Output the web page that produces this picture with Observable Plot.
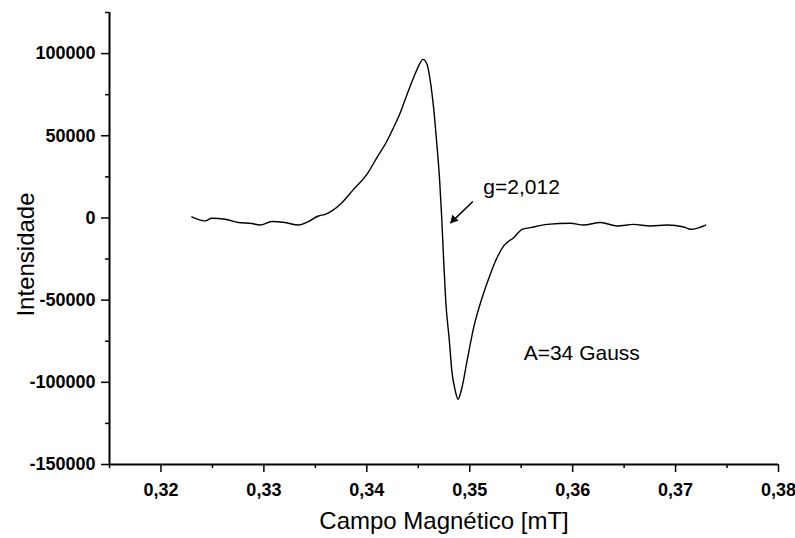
<!DOCTYPE html>
<html>
<head>
<meta charset="utf-8">
<script src="https://cdn.jsdelivr.net/npm/d3@7"></script>
<script src="https://cdn.jsdelivr.net/npm/@observablehq/plot@0.6"></script>
<style>
  html, body { margin: 0; padding: 0; background: #fff; }
  #chart { width: 795px; height: 538px; }
  #chart g[aria-label="y-axis tick label"],
  #chart g[aria-label="x-axis tick label"] { font-size: 18px; font-weight: bold; }
</style>
</head>
<body>
<div id="chart"></div>
<script>
// Magnetic field (mT) and EPR intensity
const field = [0.32299, 0.32428, 0.32493, 0.32623, 0.32752, 0.32882, 0.32963, 0.33077, 0.33206, 0.33336,
  0.33433, 0.33530, 0.33595, 0.33661, 0.33758, 0.33871, 0.34001, 0.34098, 0.34196, 0.34260,
  0.34325, 0.34390, 0.34454, 0.34503, 0.34546, 0.34585, 0.34617, 0.34649, 0.34678, 0.34708,
  0.34728, 0.34747, 0.34767, 0.34802, 0.34826, 0.34860, 0.34886, 0.34925, 0.34974, 0.35038,
  0.35120, 0.35200, 0.35266, 0.35330, 0.35427, 0.35509, 0.35589, 0.35752, 0.35979, 0.36105,
  0.36271, 0.36433, 0.36591, 0.36757, 0.36919, 0.37081, 0.37146, 0.37292];
const intensity = [600, -1800, -200, -800, -2800, -3400, -4300, -2200, -2800, -4300,
  -2200, 1200, 2200, 4300, 9300, 17400, 26500, 36700, 46800, 55000,
  64000, 75000, 85300, 92400, 96500, 93500, 83300, 67000, 46800, 22500,
  0, -26200, -50500, -74800, -93000, -105200, -110300, -103000, -87000, -66700,
  -48500, -34200, -24100, -17000, -12000, -6900, -5900, -3900, -3200, -4300,
  -2800, -4900, -3900, -4900, -4300, -5500, -6900, -4300];

const xTicks = [0.32, 0.33, 0.34, 0.35, 0.36, 0.37, 0.38];
const xMinorTicks = [0.315, 0.325, 0.335, 0.345, 0.355, 0.365, 0.375];
const yTicks = [-150000, -100000, -50000, 0, 50000, 100000];
const yMinorTicks = [-125000, -75000, -25000, 25000, 75000, 125000];

const xTitle = "Campo Magnético [mT]";
const yTitle = "Intensidade";

const gLabel = ["g=2,012"];
const gLabelPos = {x: 0.35132, y: 18900};
const aLabel = ["A=34 Gauss"];
const aLabelPos = {x: 0.35524, y: -82400};
const arrowFrom = {x: 0.35030, y: 10040};
const arrowTo = {x: 0.34813, y: -3160};
const arrowHead = {x: 0.34844, y: -1000};

const data = field.map((f, i) => ({field: f, intensity: intensity[i]}));
const font = "'Liberation Sans', Arial, Helvetica, sans-serif";

const chart = Plot.plot({
  width: 795,
  height: 538,
  marginLeft: 109,
  marginRight: 17,
  marginTop: 12,
  marginBottom: 74,
  style: {fontFamily: font, fontSize: "17px", background: "#fff", color: "#000"},
  x: {domain: [0.315, 0.38]},
  y: {domain: [-150000, 125000]},
  marks: [
    Plot.axisX(xTicks, {tickSize: 8, tickPadding: 11, strokeWidth: 1.5,
      tickFormat: d => d.toFixed(2).replace(".", ","), label: null}),
    Plot.axisX(xMinorTicks, {tickSize: 4, strokeWidth: 1.5, tickFormat: () => "", label: null}),
    Plot.axisY(yTicks, {tickSize: 8, tickPadding: 6, strokeWidth: 1.5,
      tickFormat: d => String(d), label: null}),
    Plot.axisY(yMinorTicks, {tickSize: 4, strokeWidth: 1.5, tickFormat: () => "", label: null}),
    Plot.ruleX([0.315], {stroke: "#000", strokeWidth: 2}),
    Plot.ruleY([-150000], {stroke: "#000", strokeWidth: 2}),
    Plot.line(data, {x: "field", y: "intensity", stroke: "#000", strokeWidth: 1.4, curve: "monotone-x"}),
    Plot.link([0], {x1: () => arrowFrom.x, y1: () => arrowFrom.y, x2: () => arrowTo.x, y2: () => arrowTo.y,
      stroke: "#000", strokeWidth: 1.5}),
    Plot.dot([0], {x: () => arrowHead.x, y: () => arrowHead.y, symbol: "triangle", r: 3.2,
      fill: "#000", stroke: "none", rotate: 224}),
    Plot.text(gLabel, {x: () => gLabelPos.x, y: () => gLabelPos.y, text: d => d, textAnchor: "start",
      fontSize: 21, fill: "#000"}),
    Plot.text(aLabel, {x: () => aLabelPos.x, y: () => aLabelPos.y, text: d => d, textAnchor: "start",
      fontSize: 21, fill: "#000"}),
    Plot.text([xTitle], {frameAnchor: "bottom", dy: 64, lineAnchor: "bottom", textAnchor: "middle",
      text: d => d, fontSize: 24, fill: "#000"}),
    Plot.text([yTitle], {frameAnchor: "left", dx: -76, dy: 16, rotate: -90, lineAnchor: "bottom",
      textAnchor: "middle", text: d => d, fontSize: 24, fill: "#000"})
  ]
});
document.getElementById("chart").appendChild(chart);
</script>
</body>
</html>
